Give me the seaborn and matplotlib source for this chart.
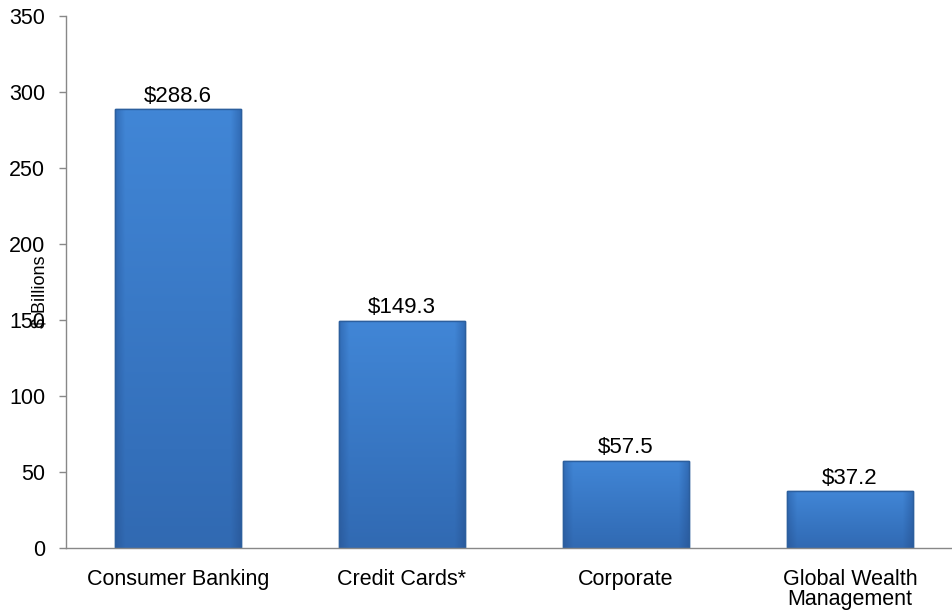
import matplotlib
matplotlib.use("Agg")
import matplotlib.pyplot as plt
import seaborn as sns
import pandas as pd
import numpy as np

categories = ["Consumer Banking", "Credit Cards*", "Corporate", "Global Wealth\nManagement"]
values = [288.6, 149.3, 57.5, 37.2]
value_labels = ["$288.6", "$149.3", "$57.5", "$37.2"]
y_ticks = [0, 50, 100, 150, 200, 250, 300, 350]

sns.set_theme(style="white")
plt.rcParams['font.family'] = ['Liberation Sans', 'DejaVu Sans']
plt.rcParams['text.color'] = 'black'

df = pd.DataFrame({"category": categories, "value": values})

fig = plt.figure(figsize=(9.53, 6.13), dpi=100)
ax = fig.add_axes([66/953, 65/613, 896/953, 532/613])

sns.barplot(data=df, x="category", y="value", color="#3b79c6", width=0.56,
            edgecolor="#2c5f9e", linewidth=1.0, ax=ax, saturation=1)

# bevel-like shading on bars
cmap = matplotlib.colors.LinearSegmentedColormap.from_list("g", ["#2a5a9c", "#3470bb", "#4186d6"])
for p in ax.patches:
    x0, y0 = p.get_x(), p.get_y()
    w, h = p.get_width(), p.get_height()
    xs = np.linspace(0, 1, 200)
    ys = np.linspace(0, 1, 200)
    hx = np.clip(np.minimum(xs, 1 - xs) / 0.08, 0, 1)
    vy = 0.55 + 0.45 * ys  # lighter toward top
    grad = vy[:, None] * (0.6 + 0.4 * hx[None, :])
    im = ax.imshow(grad, extent=[x0, x0 + w, y0, y0 + h], aspect="auto", cmap=cmap,
                   origin="lower", vmin=0.3, vmax=1.0, zorder=p.get_zorder() + 0.1)
    im.set_clip_path(p)
    ax.add_patch(matplotlib.patches.Rectangle((x0, y0), w, h, fill=False,
                 edgecolor="#2c5f9e", linewidth=1.0, zorder=p.get_zorder() + 0.2))

ax.set_xlim(-0.5, 3.5)
ax.set_ylim(0, 350)
ax.set_yticks(y_ticks)
ax.set_yticklabels([str(t) for t in y_ticks], fontsize=15.5)
ax.set_xticks(range(len(categories)))
ax.set_xticklabels(categories, fontsize=15.5, linespacing=0.95)
ax.set_xticks([0.5, 1.5, 2.5, 3.5], minor=True)
ax.tick_params(axis="x", which="major", length=0, pad=15, labelcolor="black")
ax.tick_params(axis="x", which="minor", length=5, width=1, color="#888888", direction="out")
ax.tick_params(axis="y", length=5, width=1, color="#888888", pad=10, direction="out",
               left=True, labelcolor="black")
ax.set_xlabel("")
ax.set_ylabel("")

for side in ["top", "right"]:
    ax.spines[side].set_visible(False)
for side in ["left", "bottom"]:
    ax.spines[side].set_color("#888888")
    ax.spines[side].set_linewidth(1.0)

ax.bar_label(ax.containers[0], labels=value_labels, padding=2, fontsize=16, color="black")

fig.text(40/953, 1 - 292/613, "$ Billions", rotation=90, ha="center", va="center",
         fontsize=13, color="black")

fig.savefig("out.png", dpi=100)
